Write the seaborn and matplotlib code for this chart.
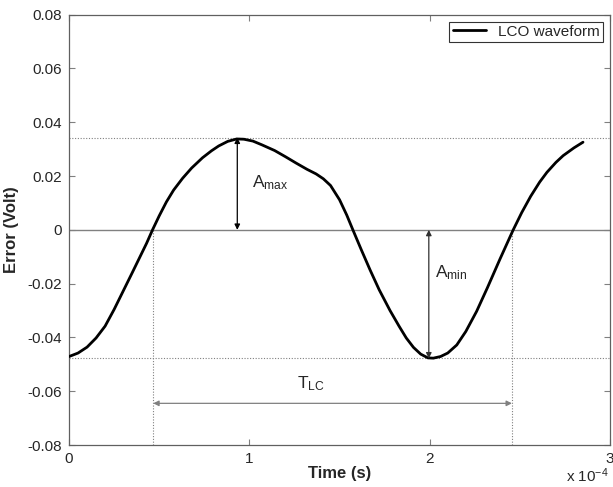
import matplotlib
matplotlib.use("Agg")
import matplotlib.pyplot as plt
import seaborn as sns
import pandas as pd

# time in units of 1e-4 s
time_e4 = [0.00, 0.05, 0.10, 0.15, 0.20, 0.25, 0.30, 0.35, 0.39, 0.43, 0.463, 0.50, 0.54,
           0.58, 0.63, 0.68, 0.74, 0.79, 0.83, 0.88, 0.93, 0.97, 1.02, 1.07, 1.14, 1.20,
           1.26, 1.32, 1.37, 1.41, 1.45, 1.50, 1.54, 1.574, 1.62, 1.67, 1.72, 1.78, 1.83,
           1.87, 1.91, 1.95, 1.99, 2.02, 2.06, 2.10, 2.15, 2.20, 2.26, 2.32, 2.39, 2.463,
           2.51, 2.56, 2.61, 2.65, 2.70, 2.74, 2.80, 2.85]
error_volt = [-0.0471, -0.0458, -0.0436, -0.0402, -0.0358, -0.0296, -0.0228, -0.0160,
              -0.0105, -0.0050, 0.0, 0.0052, 0.0104, 0.0148, 0.0192, 0.0230, 0.0268,
              0.0294, 0.0312, 0.0329, 0.0338, 0.0337, 0.0330, 0.0316, 0.0295, 0.0272,
              0.0248, 0.0225, 0.0208, 0.0190, 0.0165, 0.0112, 0.0055, 0.0, -0.0073,
              -0.0150, -0.0223, -0.0300, -0.0358, -0.0402, -0.0437, -0.0462, -0.0476,
              -0.0477, -0.0471, -0.0458, -0.0428, -0.0378, -0.0303, -0.0215, -0.0108,
              0.0, 0.0064, 0.0125, 0.0178, 0.0214, 0.0251, 0.0276, 0.0305, 0.0326]

a_max = 0.0343
a_min = -0.0478
t_max = 0.933
t_min = 1.995
t_zero1 = 0.467
t_zero2 = 2.456
t_arrow_y = -0.0645

xticks = [0, 1, 2, 3]
xtick_labels = ["0", "1", "2", "3"]
yticks = [-0.08, -0.06, -0.04, -0.02, 0, 0.02, 0.04, 0.06, 0.08]
ytick_labels = ["-0.08", "-0.06", "-0.04", "-0.02", "0", "0.02", "0.04", "0.06", "0.08"]

sns.set_style("ticks")
plt.rcParams['font.family'] = ['Liberation Sans', 'DejaVu Sans']
plt.rcParams['mathtext.fontset'] = 'custom'
plt.rcParams['mathtext.rm'] = 'Liberation Sans'
plt.rcParams['mathtext.it'] = 'Liberation Sans'

fig = plt.figure(figsize=(6.13, 4.87), dpi=100)
ax = fig.add_axes([0.1126, 0.0862, 0.8826, 0.8836])

df = pd.DataFrame({"t": time_e4, "e": error_volt})
gray = "#808080"
dot = (0, (1, 1.5))

# reference lines
ax.axhline(0, color=gray, lw=1.0, zorder=1)
ax.axhline(a_max, color=gray, lw=0.8, ls=dot, zorder=1)
ax.axhline(a_min, color=gray, lw=0.8, ls=dot, zorder=1)
ax.plot([t_zero1, t_zero1], [-0.08, 0], color=gray, lw=0.8, ls=dot, zorder=1)
ax.plot([t_zero2, t_zero2], [-0.08, 0], color=gray, lw=0.8, ls=dot, zorder=1)

sns.lineplot(data=df, x="t", y="e", ax=ax, color="black", lw=2.0,
             label="LCO waveform", sort=False, zorder=3)
ax.lines[-1].set_solid_joinstyle("round")

arrow_kw = dict(arrowstyle="<|-|>", mutation_scale=8, lw=0.9, shrinkA=0, shrinkB=0)
ax.annotate("", xy=(t_max, a_max), xytext=(t_max, 0),
            arrowprops=dict(color="black", **arrow_kw))
ax.annotate("", xy=(t_min, a_min), xytext=(t_min, 0),
            arrowprops=dict(color="#303030", **arrow_kw))
ax.annotate("", xy=(t_zero1, t_arrow_y), xytext=(t_zero2, t_arrow_y),
            arrowprops=dict(color=gray, **arrow_kw))

ax.text(1.012, 0.0158, r"A$_{\mathrm{max}}$", fontsize=12.5, va="baseline", ha="left")
ax.text(2.030, -0.0177, r"A$_{\mathrm{min}}$", fontsize=12.5, va="baseline", ha="left")
ax.text(1.262, -0.0588, r"T$_{\mathrm{LC}}$", fontsize=12.5, va="baseline", ha="left")

ax.set_xlim(0, 3)
ax.set_ylim(-0.08, 0.08)
ax.set_xticks(xticks)
ax.set_xticklabels(xtick_labels)
ax.set_yticks(yticks)
ax.set_yticklabels(ytick_labels)
ax.tick_params(direction="in", length=4, width=0.8, color=gray, labelsize=11,
               top=True, right=True, pad=5)
for s in ax.spines.values():
    s.set_color("#606060")
    s.set_linewidth(0.9)

ax.set_xlabel("Time (s)", fontsize=12, fontweight="bold", labelpad=0)
ax.set_ylabel("Error (Volt)", fontsize=12, fontweight="bold", labelpad=6)
ax.text(0.997, -0.086, r"x 10$^{-4}$", transform=ax.transAxes, fontsize=11,
        ha="right", va="baseline")

leg = ax.legend(loc="upper right", fontsize=11, frameon=True, fancybox=False,
                borderaxespad=0.45, handlelength=2.2, borderpad=0.2)
leg.get_frame().set_edgecolor("black")
leg.get_frame().set_linewidth(0.8)

fig.savefig("out.png", dpi=100)
